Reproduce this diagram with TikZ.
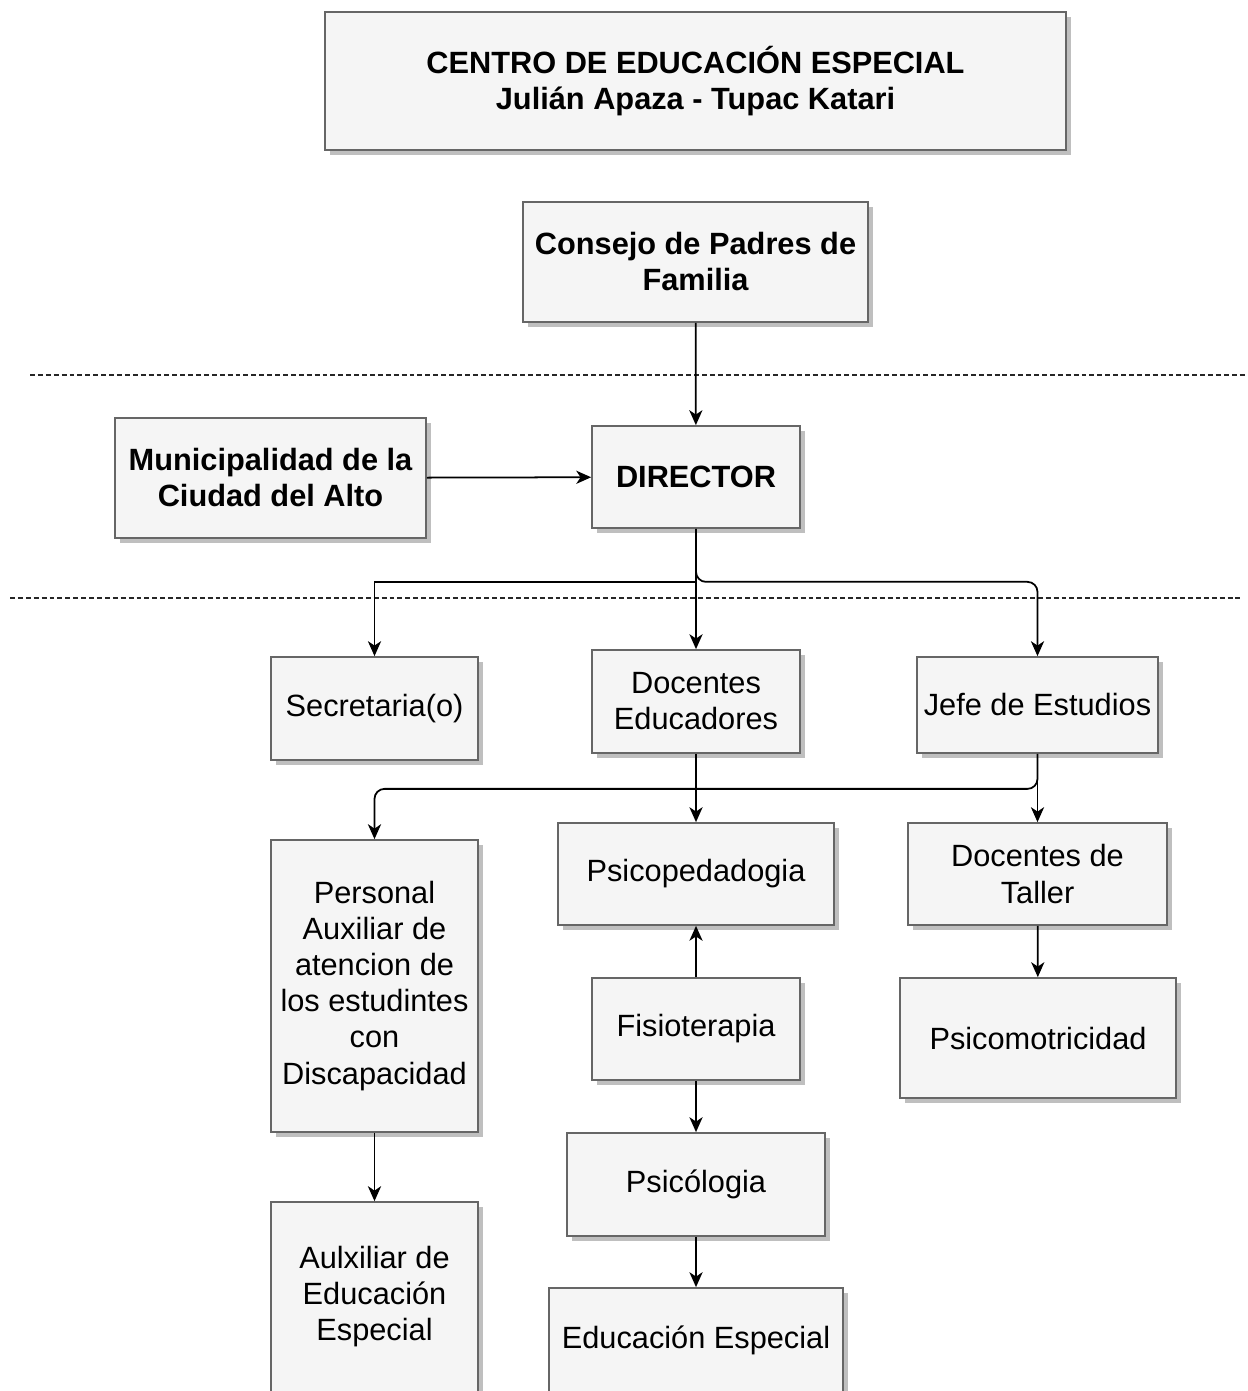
\documentclass[tikz,border=0pt]{standalone}
\usepackage{fontspec}
\setmainfont{Liberation Sans}
\usetikzlibrary{positioning,arrows.meta,shadows}
\definecolor{BoxFill}{RGB}{245,245,245}
\definecolor{BoxLine}{RGB}{102,102,102}
\tikzset{
  box/.style={draw=BoxLine,fill=BoxFill,line width=1pt,align=center,inner sep=2pt,
    font=\fontsize{17.5}{20.5}\selectfont,
    drop shadow={shadow xshift=0.1cm,shadow yshift=-0.1cm,fill=black!25,opacity=1}},
  boldbox/.style={box,font=\fontsize{17.5}{20.5}\selectfont\bfseries},
  link/.style={draw=black,line width=1pt,-{Stealth[length=8.5pt,width=7.5pt,inset=2.5pt]}},
}
\tikzset{sep/.style={draw=black!85,line width=0.8pt,dash pattern=on 2.8pt off 1.7pt}}

\begin{document}
\begin{tikzpicture}[x=0.02cm,y=-0.02cm]
\useasboundingbox (0,0) rectangle (1247,1391);
\clip (0,0) rectangle (1247,1391);
% lineas de nivel
\draw[sep] (30,375) -- (1247,375);
\draw[sep] (10,598) -- (1240,598);
% cabecera
\node[boldbox,minimum width=14.82cm,minimum height=2.76cm] (centro) at (695.5,81) {CENTRO DE EDUCACIÓN ESPECIAL\\Julián Apaza - Tupac Katari};
\node[boldbox,minimum width=6.9cm,minimum height=2.4cm] (consejo) at (695.5,262) {Consejo de Padres de\\Familia};
\node[boldbox,minimum width=6.22cm,minimum height=2.4cm] (muni) at (270.5,478) {Municipalidad de la\\Ciudad del Alto};
\node[boldbox,minimum width=4.16cm,minimum height=2.04cm] (dir) at (696,477) {DIRECTOR};
% segundo nivel
\node[box,minimum width=4.14cm,minimum height=2.06cm] (secre) at (374.5,708.5) {Secretaria(o)};
\node[box,minimum width=4.16cm,minimum height=2.06cm] (doced) at (696,701.5) {Docentes\\Educadores};
\node[box,minimum width=4.82cm,minimum height=1.92cm] (jefe) at (1037.5,705) {Jefe de Estudios};
% tercer nivel
\node[box,minimum width=4.14cm,minimum height=5.84cm] (personal) at (374.5,986) {Personal\\Auxiliar de\\atencion de\\los estudintes\\con\\Discapacidad};
\node[box,minimum width=5.52cm,minimum height=2.04cm] (psicoped) at (696,874) {Psicopedadogia};
\node[box,minimum width=5.18cm,minimum height=2.04cm] (taller) at (1037.5,874) {Docentes de\\Taller};
\node[box,minimum width=4.16cm,minimum height=2.04cm] (fisio) at (696,1029) {Fisioterapia};
\node[box,minimum width=5.52cm,minimum height=2.4cm] (psicomot) at (1038,1038) {Psicomotricidad};
\node[box,minimum width=5.16cm,minimum height=2.06cm] (psicolog) at (696,1184.5) {Psicólogia};
\node[box,minimum width=4.14cm,minimum height=3.8cm] (aux) at (374.5,1297) {Aulxiliar de\\Educación\\Especial};
\node[box,minimum width=5.88cm,minimum height=2.08cm] (educ) at (696,1340) {Educación Especial};
% conexiones
\draw[link] (consejo) -- (dir);
\draw[link] (muni) -- (dir);
\draw[link] (dir.south) -- ++(0,53) -| (secre.north);
\draw[link] (dir) -- (doced);
\draw[link,rounded corners=0.2cm] (dir.south) -- ++(0,53) -| (jefe.north);
\draw[link] (doced) -- (psicoped);
\draw[link,rounded corners=0.2cm] (jefe.south) -- ++(0,35) -| (personal.north);
\draw[link] (jefe) -- (taller);
\draw[link] (fisio) -- (psicoped);
\draw[link] (fisio) -- (psicolog);
\draw[link] (psicolog) -- (educ);
\draw[link] (taller) -- (psicomot);
\draw[link] (personal) -- (aux);
\end{tikzpicture}
\end{document}
